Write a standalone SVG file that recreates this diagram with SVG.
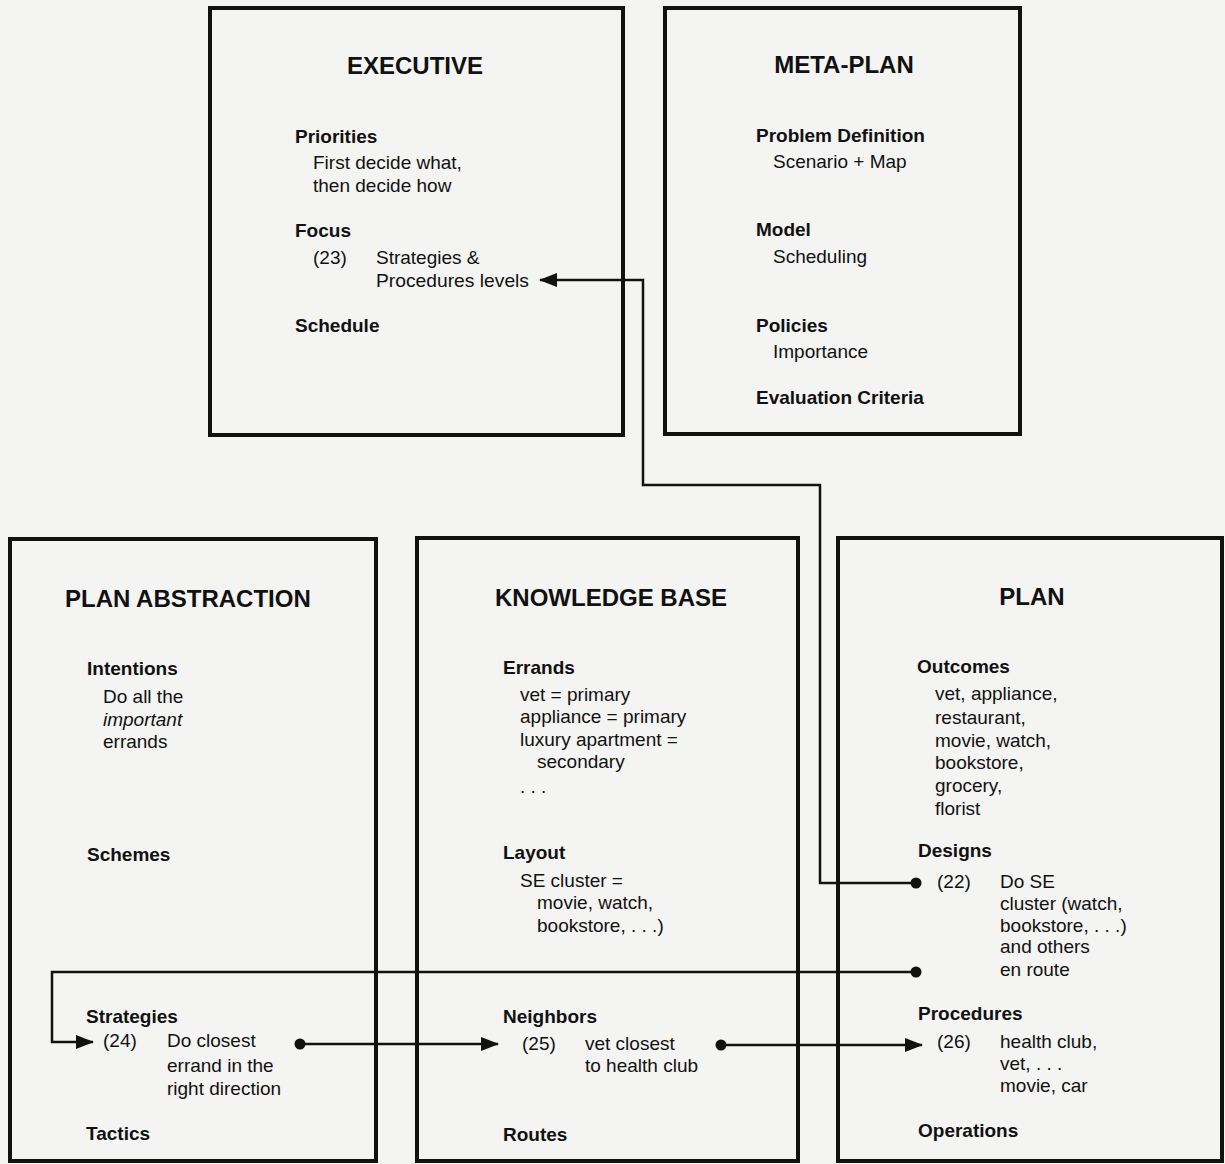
<svg xmlns="http://www.w3.org/2000/svg" width="1225" height="1164" viewBox="0 0 1225 1164">
<defs>
<marker id="arr" viewBox="0 0 18 14" refX="17" refY="7" markerWidth="18" markerHeight="14" markerUnits="userSpaceOnUse" orient="auto">
<path d="M0,0 L18,7 L0,14 Z" fill="#111"/>
</marker>
<marker id="dot" viewBox="0 0 12 12" refX="6" refY="6" markerWidth="12" markerHeight="12" markerUnits="userSpaceOnUse">
<circle cx="6" cy="6" r="5.5" fill="#111"/>
</marker>
</defs>
<style>
.box{fill:none;stroke:#111;stroke-width:4}
.con{fill:none;stroke:#111;stroke-width:2.5}
text{font-family:"Liberation Sans",Arial,Helvetica,sans-serif;fill:#111}
.t{font-size:24px;font-weight:bold}
.h{font-size:19px;font-weight:bold}
.b{font-size:19px}
.i{font-size:19px;font-style:italic}
</style>
<rect x="0" y="0" width="1225" height="1164" fill="#f4f4f2"/>

<g id="executive">
<rect class="box" x="210" y="8" width="413" height="427"/>
<text class="t" x="415" y="74" text-anchor="middle">EXECUTIVE</text>
<text class="h" x="295" y="143">Priorities</text>
<text class="b" x="313" y="169">First decide what,</text>
<text class="b" x="313" y="192">then decide how</text>
<text class="h" x="295" y="237">Focus</text>
<text class="b" x="313" y="264">(23)</text>
<text class="b" x="376" y="264">Strategies &amp;</text>
<text class="b" x="376" y="287" textLength="153" lengthAdjust="spacingAndGlyphs">Procedures levels</text>
<text class="h" x="295" y="332">Schedule</text>
</g>

<g id="meta-plan">
<rect class="box" x="665" y="8" width="355" height="426"/>
<text class="t" x="844" y="73" text-anchor="middle">META-PLAN</text>
<text class="h" x="756" y="142">Problem Definition</text>
<text class="b" x="773" y="168">Scenario + Map</text>
<text class="h" x="756" y="236">Model</text>
<text class="b" x="773" y="263">Scheduling</text>
<text class="h" x="756" y="332">Policies</text>
<text class="b" x="773" y="358">Importance</text>
<text class="h" x="756" y="404">Evaluation Criteria</text>
</g>

<g id="plan-abstraction">
<rect class="box" x="10" y="539" width="366" height="622"/>
<text class="t" x="65" y="607">PLAN ABSTRACTION</text>
<text class="h" x="87" y="675">Intentions</text>
<text class="b" x="103" y="703">Do all the</text>
<text class="i" x="103" y="726">important</text>
<text class="b" x="103" y="748">errands</text>
<text class="h" x="87" y="861">Schemes</text>
<text class="h" x="86" y="1023">Strategies</text>
<text class="b" x="103" y="1047">(24)</text>
<text class="b" x="167" y="1047">Do closest</text>
<text class="b" x="167" y="1072">errand in the</text>
<text class="b" x="167" y="1095">right direction</text>
<text class="h" x="86" y="1140">Tactics</text>
</g>

<g id="knowledge-base">
<rect class="box" x="417" y="538" width="381" height="623"/>
<text class="t" x="495" y="606">KNOWLEDGE BASE</text>
<text class="h" x="503" y="674">Errands</text>
<text class="b" x="520" y="701">vet = primary</text>
<text class="b" x="520" y="723">appliance = primary</text>
<text class="b" x="520" y="746">luxury apartment =</text>
<text class="b" x="537" y="768">secondary</text>
<text class="b" x="520" y="793">. . .</text>
<text class="h" x="503" y="859">Layout</text>
<text class="b" x="520" y="887">SE cluster =</text>
<text class="b" x="537" y="909">movie, watch,</text>
<text class="b" x="537" y="932">bookstore, . . .)</text>
<text class="h" x="503" y="1023">Neighbors</text>
<text class="b" x="522" y="1050">(25)</text>
<text class="b" x="585" y="1050">vet closest</text>
<text class="b" x="585" y="1072">to health club</text>
<text class="h" x="503" y="1141">Routes</text>
</g>

<g id="plan">
<rect class="box" x="838" y="538" width="384" height="623"/>
<text class="t" x="1032" y="605" text-anchor="middle">PLAN</text>
<text class="h" x="917" y="673">Outcomes</text>
<text class="b" x="935" y="700">vet, appliance,</text>
<text class="b" x="935" y="724">restaurant,</text>
<text class="b" x="935" y="747">movie, watch,</text>
<text class="b" x="935" y="769">bookstore,</text>
<text class="b" x="935" y="792">grocery,</text>
<text class="b" x="935" y="815">florist</text>
<text class="h" x="918" y="857">Designs</text>
<text class="b" x="937" y="888">(22)</text>
<text class="b" x="1000" y="888">Do SE</text>
<text class="b" x="1000" y="910">cluster (watch,</text>
<text class="b" x="1000" y="932">bookstore, . . .)</text>
<text class="b" x="1000" y="953">and others</text>
<text class="b" x="1000" y="976">en route</text>
<text class="h" x="918" y="1020">Procedures</text>
<text class="b" x="937" y="1048">(26)</text>
<text class="b" x="1000" y="1048">health club,</text>
<text class="b" x="1000" y="1070">vet, . . .</text>
<text class="b" x="1000" y="1092">movie, car</text>
<text class="h" x="918" y="1137">Operations</text>
</g>

<g id="connectors">
<path class="con" d="M916,883 H820 V485 H643 V280 H540" marker-start="url(#dot)" marker-end="url(#arr)"/>
<path class="con" d="M916,972 H52 V1042 H93" marker-start="url(#dot)" marker-end="url(#arr)"/>
<path class="con" d="M300,1044 H498" marker-start="url(#dot)" marker-end="url(#arr)"/>
<path class="con" d="M721,1045 H922" marker-start="url(#dot)" marker-end="url(#arr)"/>
</g>
</svg>
